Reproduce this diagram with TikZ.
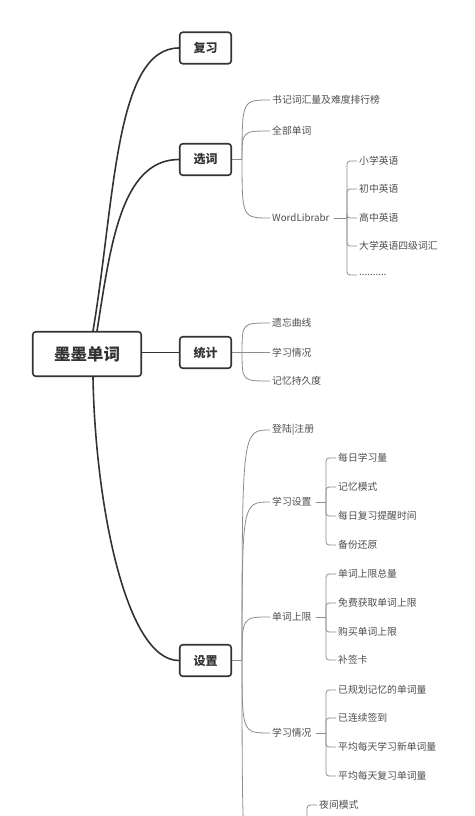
\documentclass[tikz,border=0pt]{standalone}
\usepackage{fontspec}
\setmainfont{Noto Sans CJK SC}
\usepackage{tikz}
\usetikzlibrary{positioning, calc}
\definecolor{momodark}{HTML}{333333}
\definecolor{momoline}{HTML}{8C8C8C}
\definecolor{momotext}{HTML}{4D4D4D}
\tikzset{
  topic/.style={draw=momodark, rounded corners=3pt, line width=1.6pt, align=center,
                text=momodark, font=\fontsize{12}{14}\selectfont\bfseries,
                minimum width=51.5pt, minimum height=31.5pt, inner sep=2pt, fill=white},
  roottopic/.style={topic, font=\fontsize{16.5}{19}\selectfont\bfseries,
                minimum width=108.5pt, minimum height=44.5pt},
  leaf/.style={anchor=west, inner sep=2pt, text=momotext, font=\fontsize{9.8}{12}\selectfont},
  branch/.style={draw=momodark, line width=1.6pt},
  twig/.style={draw=momoline, line width=0.8pt},
  brace/.style={twig, rounded corners=3pt},
}
\begin{document}
\begin{tikzpicture}[x=1pt, y=-1pt]
  \useasboundingbox (0,0) rectangle (474,816);
  \clip (0,0) rectangle (474,816);

  % main topics
  \node[roottopic] (root) at (87,354) {墨墨单词};
  \node[topic] (fuxi) at (205.5,48) {复习};
  \node[topic] (xuanci) at (205.5,159.5) {选词};
  \node[topic] (tongji) at (205.5,352.5) {统计};
  \node[topic] (shezhi) at (205.5,660.5) {设置};

  \draw[branch] ([xshift=6pt]root.north) .. controls (115,200) and (115,48) .. (fuxi.west);
  \draw[branch] ([xshift=10pt]root.north) .. controls (110,250) and (120,159.5) .. (xuanci.west);
  \draw[branch] (root.east |- tongji.west) -- (tongji.west);
  \draw[branch] ([xshift=6pt]root.south) .. controls (95,500) and (125,660.5) .. (shezhi.west);

  % 选词
  \coordinate (xchub) at ([xshift=10pt]xuanci.east);
  \node[leaf] (xc1) at (270,100) {书记词汇量及难度排行榜};
  \node[leaf] (xc2) at (270,131) {全部单词};
  \node[leaf] (wordlib) at (270,218) {WordLibrabr};
  \draw[twig] (xuanci.east) -- (xchub);
  \draw[twig] (xchub) .. controls (xchub |- xc1.west) .. (xc1.west);
  \draw[twig] (xchub) .. controls (xchub |- xc2.west) .. (xc2.west);
  \draw[twig] (xchub) .. controls (xchub |- wordlib.west) .. (wordlib.west);

  \coordinate (wlfork) at (347,218);
  \node[leaf] (wl1) at (357,161) {小学英语};
  \node[leaf] (wl2) at (357,189) {初中英语};
  \node[leaf] (wl3) at (357,218) {高中英语};
  \node[leaf] (wl4) at (357,246) {大学英语四级词汇};
  \node[leaf] (wl5) at (357,275) {..........};
  \draw[twig] ([xshift=2pt]wordlib.east) -- (wlfork);
  \draw[brace] (wlfork) |- (wl1.west);
  \draw[brace] (wlfork) |- (wl2.west);
  \draw[brace] (wlfork) |- (wl3.west);
  \draw[brace] (wlfork) |- (wl4.west);
  \draw[brace] (wlfork) |- (wl5.west);

  % 统计
  \coordinate (tjhub) at ([xshift=10pt]tongji.east);
  \node[leaf] (tj1) at (270,323) {遗忘曲线};
  \node[leaf] (tj2) at (270,352.5) {学习情况};
  \node[leaf] (tj3) at (270,381) {记忆持久度};
  \draw[twig] (tongji.east) -- (tjhub);
  \draw[twig] (tjhub) .. controls (tjhub |- tj1.west) .. (tj1.west);
  \draw[twig] (tjhub) -- (tj2.west);
  \draw[twig] (tjhub) .. controls (tjhub |- tj3.west) .. (tj3.west);

  % 设置
  \coordinate (szhub) at ([xshift=10pt]shezhi.east);
  \coordinate (szdown) at (270,880);
  \node[leaf] (login) at (270,430) {登陆|注册};
  \node[leaf] (studyset) at (270,502) {学习设置};
  \node[leaf] (limit) at (270,617) {单词上限};
  \node[leaf] (studystat) at (270,733) {学习情况};
  \draw[twig] (shezhi.east) -- (szhub);
  \draw[twig] (szhub) .. controls (szhub |- login.west) .. (login.west);
  \draw[twig] (szhub) .. controls (szhub |- studyset.west) .. (studyset.west);
  \draw[twig] (szhub) .. controls (szhub |- limit.west) .. (limit.west);
  \draw[twig] (szhub) .. controls (szhub |- studystat.west) .. (studystat.west);
  \draw[twig] (szhub) .. controls (szhub |- szdown) .. (szdown);

  \coordinate (ssfork) at (326,502);
  \node[leaf] (ss1) at (336,458) {每日学习量};
  \node[leaf] (ss2) at (336,487) {记忆模式};
  \node[leaf] (ss3) at (336,516) {每日复习提醒时间};
  \node[leaf] (ss4) at (336,545) {备份还原};
  \draw[twig] ([xshift=2pt]studyset.east) -- (ssfork);
  \draw[brace] (ssfork) |- (ss1.west);
  \draw[brace] (ssfork) |- (ss2.west);
  \draw[brace] (ssfork) |- (ss3.west);
  \draw[brace] (ssfork) |- (ss4.west);

  \coordinate (lmfork) at (326,617);
  \node[leaf] (lm1) at (336,574) {单词上限总量};
  \node[leaf] (lm2) at (336,603) {免费获取单词上限};
  \node[leaf] (lm3) at (336,632) {购买单词上限};
  \node[leaf] (lm4) at (336,660) {补签卡};
  \draw[twig] ([xshift=2pt]limit.east) -- (lmfork);
  \draw[brace] (lmfork) |- (lm1.west);
  \draw[brace] (lmfork) |- (lm2.west);
  \draw[brace] (lmfork) |- (lm3.west);
  \draw[brace] (lmfork) |- (lm4.west);

  \coordinate (stfork) at (326,733);
  \node[leaf] (st1) at (336,690) {已规划记忆的单词量};
  \node[leaf] (st2) at (336,718) {已连续签到};
  \node[leaf] (st3) at (336,747) {平均每天学习新单词量};
  \node[leaf] (st4) at (336,776) {平均每天复习单词量};
  \draw[twig] ([xshift=2pt]studystat.east) -- (stfork);
  \draw[brace] (stfork) |- (st1.west);
  \draw[brace] (stfork) |- (st2.west);
  \draw[brace] (stfork) |- (st3.west);
  \draw[brace] (stfork) |- (st4.west);

  \coordinate (nightstem) at (307,840);
  \node[leaf] (night) at (317,805) {夜间模式};
  \draw[brace] (nightstem) |- (night.west);
\end{tikzpicture}
\end{document}
